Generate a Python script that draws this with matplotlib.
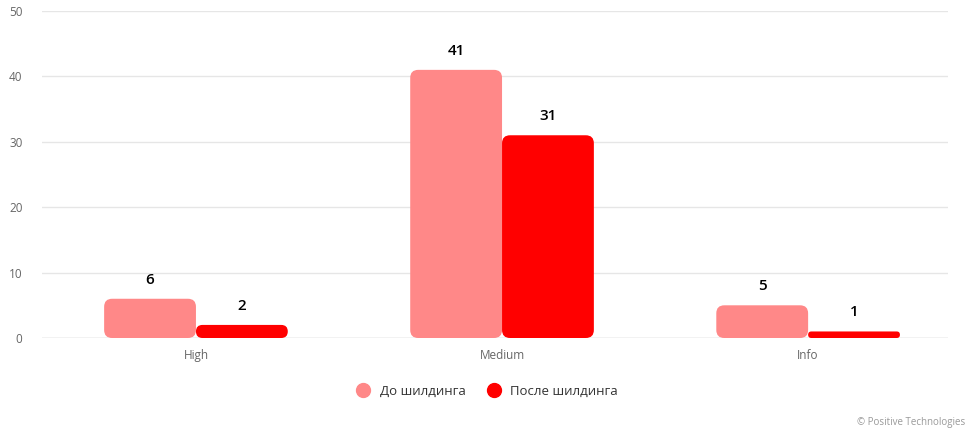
import matplotlib
matplotlib.use("Agg")
import matplotlib.pyplot as plt
from matplotlib.patches import FancyBboxPatch
from matplotlib.lines import Line2D
import numpy as np

plt.rcParams['font.family'] = ['Open Sans', 'DejaVu Sans']

categories = ['High', 'Medium', 'Info']
before = [6, 41, 5]
after = [2, 31, 1]
series_names = ['До шилдинга', 'После шилдинга']
colors = ['#ff8888', '#ff0000']
yticks = [0, 10, 20, 30, 40, 50]

W, H = 973, 432
fig = plt.figure(figsize=(W / 100, H / 100), dpi=100)
ax = fig.add_axes([42 / W, (H - 338) / H, (948 - 42) / W, (338 - 11) / H])

x = np.arange(len(categories))
bw = 0.3
xlim = (-0.503, 2.457)
ylim = (0, 50)
ax.set_xlim(*xlim)
ax.set_ylim(*ylim)

# pixels per data unit, for round corners
px_x = (948 - 42) / (xlim[1] - xlim[0])
px_y = (338 - 11) / (ylim[1] - ylim[0])

def rounded_bar(xc, h, color):
    r_px = min(8, h * px_y / 2)
    left = xc - bw / 2
    p = FancyBboxPatch((left, 0), bw, h,
                       boxstyle="round,pad=0,rounding_size=%f" % (r_px / px_x),
                       mutation_aspect=px_x / px_y,
                       fc=color, ec='none', zorder=3)
    ax.add_patch(p)

for i, vals in enumerate([before, after]):
    offs = (i - 0.5) * bw
    for xi, v in zip(x, vals):
        rounded_bar(xi + offs, v, colors[i])
        ax.text(xi + offs, v + 50 * 12 / 327, str(v), ha='center', va='bottom',
                fontsize=11, fontweight='semibold', color='#000000')

ax.set_yticks(yticks)
ax.set_xticks(x)
ax.set_xticklabels(categories)
ax.grid(axis='y', color='#e6e6e6', linewidth=1, zorder=0)
for s in ax.spines.values():
    s.set_visible(False)
ax.axhline(0, color='#cccccc', linewidth=1, zorder=1)
ax.tick_params(axis='both', length=0, labelsize=8.5, labelcolor='#666666')
ax.tick_params(axis='y', pad=14)
ax.tick_params(axis='x', pad=8)

handles = [Line2D([], [], marker='o', linestyle='none', markersize=10,
                  markerfacecolor=c, markeredgecolor=c) for c in colors]
fig.legend(handles, series_names, loc='center', bbox_to_anchor=(484 / W, (H - 391) / H),
           ncol=2, frameon=False, fontsize=9.5, handletextpad=0.25, columnspacing=1.1,
           labelcolor='#333333')

fig.text(965 / W, (H - 423) / H, '© Positive Technologies', ha='right', va='center',
         fontsize=7, color='#999999')

fig.savefig('out.png', dpi=100)
